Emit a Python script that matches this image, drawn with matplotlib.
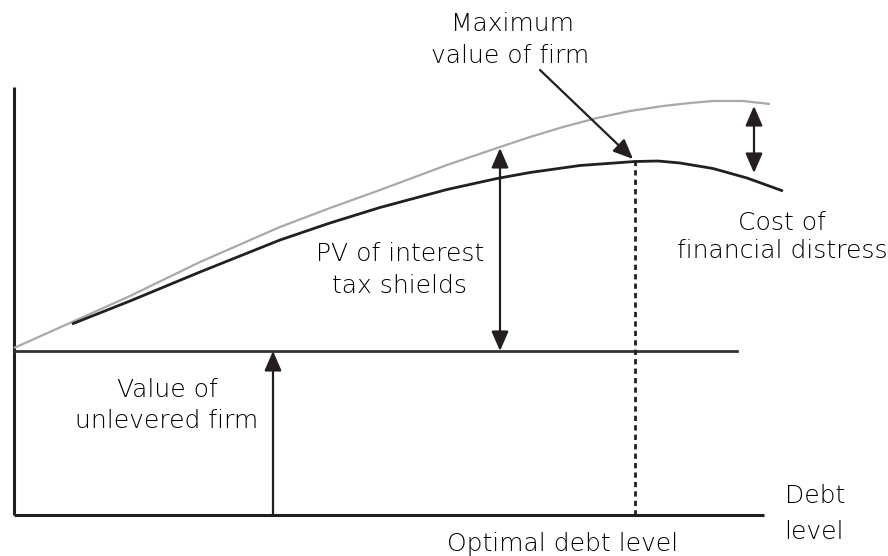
import matplotlib
matplotlib.use("Agg")
import matplotlib.pyplot as plt

# ---- data (x = debt level, y = firm value; arbitrary units) ----
levered_x = [0, 58, 116, 186, 266, 316, 366, 433, 483, 516, 549, 583, 616, 649, 676, 699, 729, 756]
levered_y = [167, 193, 219, 253, 288, 307, 325, 350, 367, 378, 388, 397, 404, 409, 412, 414, 414, 411]

actual_x = [58, 116, 186, 266, 316, 366, 433, 483, 516, 566, 621, 644, 666, 699, 733, 769]
actual_y = [191, 214, 243, 275, 292, 307.5, 325.5, 336.5, 342.5, 349.5, 353.5, 354, 352, 346.5, 337, 324]

unlevered_value = 164
unlevered_x_end = 723
optimal_debt = 621
max_value = 354

axis_x_end = 750
axis_y_end = 428

labels_max = ["Maximum", "value of firm"]
labels_pv = ["PV of interest", "tax shields"]
labels_unlev = ["Value of", "unlevered firm"]
labels_cost = ["Cost of", "financial distress"]
labels_debt = ["Debt", "level"]
label_opt = "Optimal debt level"

# ---- figure ----
fig = plt.figure(figsize=(8.88, 5.56), dpi=100)
ax = fig.add_axes([0, 0, 1, 1])
ax.set_xlim(-14, 874)
ax.set_ylim(-41, 515)
ax.axis("off")

black = "#231f20"
gray = "#a7a9ac"

# axes
ax.plot([0, 0], [0, axis_y_end], color=black, lw=2.2, solid_capstyle="butt")
ax.plot([0, axis_x_end], [0, 0], color=black, lw=2.2, solid_capstyle="butt")

# unlevered firm value
ax.plot([0, unlevered_x_end], [unlevered_value, unlevered_value], color="#333333", lw=2.0)

# curves
ax.plot(levered_x, levered_y, color=gray, lw=1.6, solid_capstyle="butt", solid_joinstyle="round")
ax.plot(actual_x, actual_y, color=black, lw=2.0, solid_capstyle="butt", solid_joinstyle="round")

# optimal debt dotted line
ax.plot([optimal_debt, optimal_debt], [0, max_value], color=black, lw=2.0,
        linestyle=(0, (1.9, 1.5)))

def arrow(x0, y0, x1, y1, both=False):
    style = "<|-|>" if both else "-|>"
    ax.annotate("", xy=(x1, y1), xytext=(x0, y0),
                arrowprops=dict(arrowstyle=style + ",head_length=0.6,head_width=0.26",
                                mutation_scale=20, color=black, lw=1.6,
                                shrinkA=0, shrinkB=0))

arrow(486, unlevered_value, 486, 367, both=True)
arrow(740, 342, 740, 409, both=True)
arrow(259, 0, 259, unlevered_value)
arrow(526, 445, optimal_debt - 2, max_value + 2)

fs = 18
tkw = dict(fontsize=fs, color="#000000", ha="center", va="baseline",
           family="DejaVu Sans", fontweight="light")

def px(x, y):
    return x - 14, 515 - y

for txt, (x, y) in zip(labels_max, [(512, 31), (510, 63)]):
    ax.text(*px(x, y), txt, **tkw)
for txt, (x, y) in zip(labels_pv, [(400, 261), (399, 293)]):
    ax.text(*px(x, y), txt, **tkw)
for txt, (x, y) in zip(labels_unlev, [(167, 397), (167, 428)]):
    ax.text(*px(x, y), txt, **tkw)
for txt, (x, y) in zip(labels_cost, [(782, 230), (782, 258)]):
    ax.text(*px(x, y), txt, **tkw)
for txt, (x, y) in zip(labels_debt, [(815, 503), (814, 539)]):
    ax.text(*px(x, y), txt, **tkw)
ax.text(*px(563, 551), label_opt, **tkw)

fig.savefig("out.png", dpi=100)
